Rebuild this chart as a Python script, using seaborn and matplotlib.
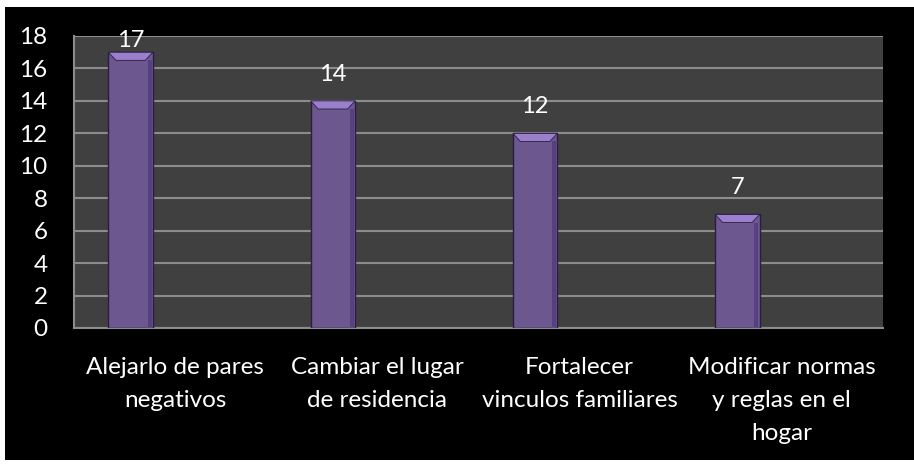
import pandas as pd
import seaborn as sns
import matplotlib.pyplot as plt
from matplotlib.patches import Rectangle, Polygon

# Chart data
categorias = ['Alejarlo de pares\nnegativos',
              'Cambiar el lugar\nde residencia',
              'Fortalecer\nvinculos familiares',
              'Modificar normas\ny reglas en el\nhogar']
valores = [17, 14, 12, 7]
series = ['Serie 1', 'Serie 2', 'Serie 3']  # only the first one has values
yticks = list(range(0, 19, 2))

df = pd.DataFrame({'categoria': categorias, 'valor': valores, 'serie': series[0]})

sns.set_style('dark')
plt.rcParams['font.family'] = ['Lato', 'DejaVu Sans']

fig = plt.figure(figsize=(9.14, 4.66), dpi=100, facecolor='white')
# black chart area (small white margin at top/left/bottom as in the reference)
fig.patches.append(Rectangle((5 / 914, 6 / 466), 909 / 914, 453 / 466,
                             transform=fig.transFigure, facecolor='black',
                             edgecolor='none', zorder=-5))
ax = fig.add_axes([74 / 914, 1 - 328 / 466, 809 / 914, 292 / 466])
ax.set_facecolor('#404040')

sns.barplot(data=df, x='categoria', y='valor', hue='serie', hue_order=series,
            order=categorias, width=0.66, dodge=True, legend=False,
            palette=['#6a4e98', '#6a4e98', '#6a4e98'],
            edgecolor='#2a1c42', linewidth=1.0, ax=ax, zorder=3)

# top bevel on each bar and value labels
for p in list(ax.patches):
    h = p.get_height()
    if not h or h != h:
        continue
    x0 = p.get_x()
    w = p.get_width()
    dx = w * 0.17
    dy = 0.5
    ax.add_patch(Polygon([[x0, h], [x0 + w, h], [x0 + w - dx, h - dy], [x0 + dx, h - dy]],
                         closed=True, facecolor='#9a80cc', edgecolor='#2a1c42',
                         linewidth=0.6, zorder=4))
    ax.add_patch(Rectangle((x0 + w - dx * 0.7, 0.05), dx * 0.55, h - dy - 0.05,
                           facecolor='#57407f', edgecolor='none', zorder=4))
    ax.text(x0 + w / 2, min(h + 1.25, 17.35), f'{int(h)}', ha='center', va='baseline',
            color='white', fontsize=17, zorder=5)

ax.set_ylim(0, 18)
ax.set_xlim(-0.5, len(categorias) - 0.5)
ax.set_yticks(yticks)
ax.set_yticklabels([str(t) for t in yticks])
ax.grid(axis='y', color='#8c8c8c', linewidth=1.5, zorder=1)
ax.grid(axis='x', visible=False)
ax.set_axisbelow(True)

# category boundaries as major ticks, labels at centres
ax.set_xticks([i - 0.5 for i in range(len(categorias) + 1)])
ax.set_xticklabels([])
ax.set_xticks(range(len(categorias)), minor=True)
ax.set_xticklabels(categorias, minor=True, linespacing=1.7)
ax.tick_params(axis='x', which='minor', length=0, pad=21, labelsize=17.5, labelcolor='white')
ax.tick_params(axis='x', which='major', length=8, width=1.5, color='#8c8c8c', direction='out')
ax.tick_params(axis='y', length=8, width=1.5, color='#8c8c8c', direction='out',
               labelsize=17.5, labelcolor='white', pad=11)
ax.set_xlabel('')
ax.set_ylabel('')

for side in ['top', 'right']:
    ax.spines[side].set_visible(False)
for side in ['left', 'bottom']:
    ax.spines[side].set_visible(True)
    ax.spines[side].set_color('#8c8c8c')
    ax.spines[side].set_linewidth(1.5)

fig.savefig('out.png', dpi=100, facecolor='white')
